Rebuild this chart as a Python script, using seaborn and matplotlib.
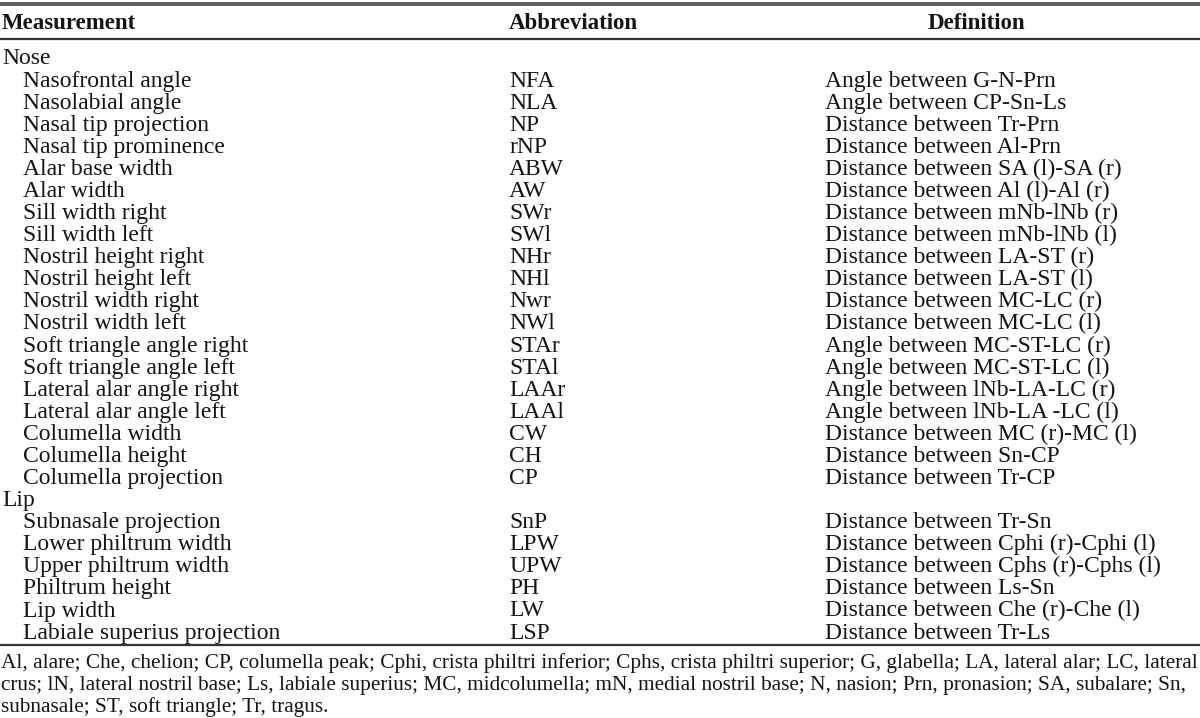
import pandas as pd
import matplotlib
matplotlib.use("Agg")
import matplotlib.pyplot as plt
import seaborn as sns

HEADERS = ["Measurement", "Abbreviation", "Definition"]

GROUPS = ["Nose"] * 19 + ["Lip"] * 6

MEASUREMENTS = [
    "Nasofrontal angle", "Nasolabial angle", "Nasal tip projection",
    "Nasal tip prominence", "Alar base width", "Alar width",
    "Sill width right", "Sill width left", "Nostril height right",
    "Nostril height left", "Nostril width right", "Nostril width left",
    "Soft triangle angle right", "Soft triangle angle left",
    "Lateral alar angle right", "Lateral alar angle left",
    "Columella width", "Columella height", "Columella projection",
    "Subnasale projection", "Lower philtrum width", "Upper philtrum width",
    "Philtrum height", "Lip width", "Labiale superius projection",
]

ABBREVIATIONS = [
    "NFA", "NLA", "NP", "rNP", "ABW", "AW", "SWr", "SWl", "NHr", "NHl",
    "Nwr", "NWl", "STAr", "STAl", "LAAr", "LAAl", "CW", "CH", "CP",
    "SnP", "LPW", "UPW", "PH", "LW", "LSP",
]

DEFINITIONS = [
    "Angle between G-N-Prn", "Angle between CP-Sn-Ls",
    "Distance between Tr-Prn", "Distance between Al-Prn",
    "Distance between SA (l)-SA (r)", "Distance between Al (l)-Al (r)",
    "Distance between mNb-lNb (r)", "Distance between mNb-lNb (l)",
    "Distance between LA-ST (r)", "Distance between LA-ST (l)",
    "Distance between MC-LC (r)", "Distance between MC-LC (l)",
    "Angle between MC-ST-LC (r)", "Angle between MC-ST-LC (l)",
    "Angle between lNb-LA-LC (r)", "Angle between lNb-LA -LC (l)",
    "Distance between MC (r)-MC (l)", "Distance between Sn-CP",
    "Distance between Tr-CP",
    "Distance between Tr-Sn", "Distance between Cphi (r)-Cphi (l)",
    "Distance between Cphs (r)-Cphs (l)", "Distance between Ls-Sn",
    "Distance between Che (r)-Che (l)", "Distance between Tr-Ls",
]

FOOTNOTE = [
    "Al, alare; Che, chelion; CP, columella peak; Cphi, crista philtri inferior; "
    "Cphs, crista philtri superior; G, glabella; LA, lateral alar; LC, lateral",
    "crus; lN, lateral nostril base; Ls, labiale superius; MC, midcolumella; "
    "mN, medial nostril base; N, nasion; Prn, pronasion; SA, subalare; Sn,",
    "subnasale; ST, soft triangle; Tr, tragus.",
]


def build_rows():
    df = pd.DataFrame({"group": GROUPS, "measurement": MEASUREMENTS,
                       "abbr": ABBREVIATIONS, "definition": DEFINITIONS})
    rows = []
    for group, sub in df.groupby("group", sort=False):
        rows.append((group, "", "", False))
        for _, r in sub.iterrows():
            rows.append((r["measurement"], r["abbr"], r["definition"], True))
    return rows


def main():
    sns.set_theme(style="white")
    plt.rcParams["font.family"] = ["Liberation Serif", "DejaVu Serif"]

    fig = plt.figure(figsize=(12, 7.18), dpi=100)
    ax = fig.add_axes([0, 0, 1, 1])
    ax.set_xlim(0, 1200)
    ax.set_ylim(718, 0)
    ax.axis("off")

    ink = "#141414"
    rule = "#333333"
    fs = 17

    # header row (baseline positioned)
    col_x = [2, 509, 825]
    ax.text(col_x[0], 29, HEADERS[0], fontsize=fs - 0.5, fontweight="bold",
            color=ink, va="baseline", ha="left")
    ax.text(col_x[1], 29, HEADERS[1], fontsize=fs - 0.5, fontweight="bold",
            color=ink, va="baseline", ha="left")
    ax.text(976, 29, HEADERS[2], fontsize=fs - 0.5, fontweight="bold",
            color=ink, va="baseline", ha="center")

    rows = build_rows()
    y0, step = 64.5, 22.08
    for i, (meas, abbr, definition, indent) in enumerate(rows):
        y = y0 + i * step
        ax.text(col_x[0] + (21 if indent else 0), y, meas, fontsize=fs,
                color=ink, va="baseline", ha="left")
        if abbr:
            ax.text(col_x[1], y, abbr, fontsize=fs, color=ink,
                    va="baseline", ha="left")
            ax.text(col_x[2], y, definition, fontsize=fs, color=ink,
                    va="baseline", ha="left")

    ax.axhline(3.0, color=rule, lw=1.1)
    ax.axhline(5.4, color=rule, lw=1.1)
    ax.axhline(39, color=rule, lw=1.6)
    ax.axhline(645, color=rule, lw=1.6)

    for j, line in enumerate(FOOTNOTE):
        ax.text(1, 668 + j * 22, line, fontsize=15.3, color=ink,
                va="baseline", ha="left")

    fig.savefig("out.png", dpi=100, facecolor="white")
    plt.close(fig)


if __name__ == "__main__":
    main()
